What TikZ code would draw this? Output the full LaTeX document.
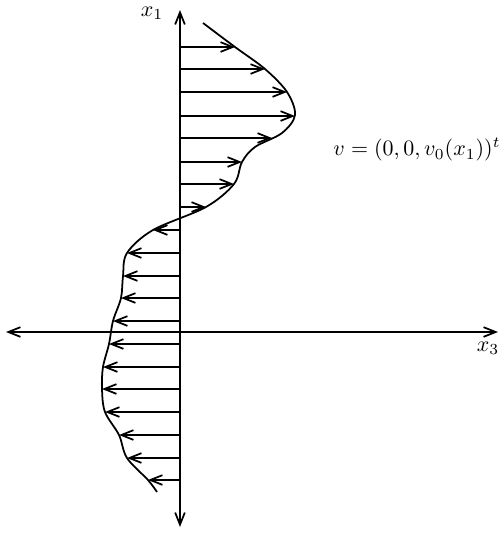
\documentclass[tikz,border=0pt]{standalone}
\usepackage{amsmath, amssymb}
\usetikzlibrary{arrows.meta}

\begin{document}
\begin{tikzpicture}[
		x=0.16cm, y=0.16cm,
		ax/.style = {{Straight Barb[length=5.5pt,width=4.4pt]}-{Straight Barb[length=5.5pt,width=4.4pt]}, line width=0.8pt},
		r/.style = {-{Straight Barb[length=5.5pt,width=4.4pt]}, line width=0.8pt},
		c/.style = {line width=0.8pt}
		]
		\useasboundingbox (-18,-20.2) rectangle (31.9,33.2);
		
		%Axes
		\coordinate	(s)	at	(0, -19.5);
		\coordinate	(n)	at	(0, 32.2);
		\coordinate	(w)	at	(-17.4, 0);
		\coordinate	(e)	at	(31.8, 0);
		\draw[ax]	(s)	--	(n);
		\draw[ax]	(w)	--	(e);
		
		%Labels
		\node	(x1)	at	(-2.8, 31.9)	{$x_1$};
		\node	(x3)	at	(30.8, -1.6)	{$x_3$};
		\node	(v)		at	(23.7, 18.2)	{$v = (0, 0, v_0(x_1))^t$};
		
		%Profile
		\draw[c]	plot[smooth, tension=0.55] coordinates {(2.3, 30.9) (5.5, 28.5) (8.5, 26.3) (10.7, 24.0) (11.5, 21.7) (10.2, 19.9) (7.5, 18.5) (6.2, 17.0) (5.4, 14.8) (2.6, 12.5) (-2.7, 10.2) (-5.3, 7.9) (-5.7, 5.6) (-5.9, 3.4) (-6.7, 1.1) (-7.1, -1.2) (-7.7, -3.5) (-7.8, -5.7) (-7.5, -8.0) (-6.1, -10.3) (-5.3, -12.6) (-3.2, -14.8) (-2.3, -16.0)};
		
		%Lines
		\draw[r]	(0, 28.5)	--	(5.5, 28.5);
		\draw[r]	(0, 26.3)	--	(8.5, 26.3);
		\draw[r]	(0, 24.0)	--	(10.7, 24.0);
		\draw[r]	(0, 21.6)	--	(11.5, 21.6);
		\draw[r]	(0, 19.4)	--	(9.2, 19.4);
		\draw[r]	(0, 17.0)	--	(6.2, 17.0);
		\draw[r]	(0, 14.8)	--	(5.4, 14.8);
		\draw[r]	(0, 12.5)	--	(2.6, 12.5);
		\draw[r]	(0, 10.2)	--	(-2.7, 10.2);
		\draw[r]	(0, 7.9)	--	(-5.3, 7.9);
		\draw[r]	(0, 5.6)	--	(-5.7, 5.6);
		\draw[r]	(0, 3.4)	--	(-5.9, 3.4);
		\draw[r]	(0, 1.1)	--	(-6.7, 1.1);
		\draw[r]	(0, -1.2)	--	(-7.1, -1.2);
		\draw[r]	(0, -3.5)	--	(-7.7, -3.5);
		\draw[r]	(0, -5.7)	--	(-7.8, -5.7);
		\draw[r]	(0, -8.0)	--	(-7.5, -8.0);
		\draw[r]	(0, -10.3)	--	(-6.1, -10.3);
		\draw[r]	(0, -12.6)	--	(-5.3, -12.6);
		\draw[r]	(0, -14.8)	--	(-3.2, -14.8);
	\end{tikzpicture}
\end{document}
